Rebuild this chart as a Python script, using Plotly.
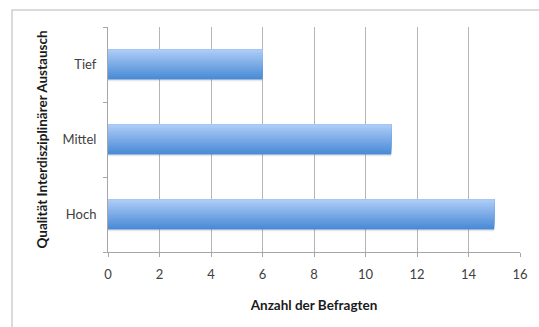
import plotly.graph_objects as go

# Survey data: quality of interdisciplinary exchange
categories = ["Hoch", "Mittel", "Tief"]
counts = [15, 11, 6]
x_ticks = [0, 2, 4, 6, 8, 10, 12, 14, 16]

W, H = 539, 327
L, R, T, B = 108, 19, 27, 75

fig = go.Figure()

# Vertical gradient on each bar: stacked layers, each covering from its
# start up to the bar's top edge, getting lighter toward the top
n_slices = 16
bar_w = 0.4
top_rgb = (171, 203, 246)
bot_rgb = (74, 138, 214)

# soft drop shadow under the bars
fig.add_trace(go.Bar(
    x=counts, y=categories, orientation="h",
    width=bar_w, offset=-bar_w / 2 - 0.022,
    marker=dict(color="rgba(120,120,120,0.18)", line=dict(width=0)),
    hoverinfo="skip", showlegend=False,
))

for i in range(n_slices):
    t = i / (n_slices - 1)  # 0 bottom -> 1 top
    rgb = tuple(round(b + (a - b) * t) for a, b in zip(top_rgb, bot_rgb))
    start = -bar_w / 2 + i * bar_w / n_slices
    fig.add_trace(go.Bar(
        x=counts, y=categories, orientation="h",
        width=bar_w / 2 - start,
        offset=start,
        marker=dict(color="rgb(%d,%d,%d)" % rgb, line=dict(width=0)),
        hoverinfo="skip", showlegend=False,
    ))

font_family = "Lato, 'Open Sans', Arial, sans-serif"

fig.update_layout(
    width=W, height=H,
    margin=dict(l=L, r=R, t=T, b=B, pad=0),
    paper_bgcolor="white", plot_bgcolor="white",
    barmode="overlay",
    font=dict(family=font_family, size=13, color="#404040"),
    xaxis=dict(
        range=[0, 16], tickvals=x_ticks, ticktext=[str(v) for v in x_ticks],
        showgrid=True, gridcolor="#b5b5b5", gridwidth=1,
        showline=True, linecolor="#a6a6a6", linewidth=1,
        ticks="outside", ticklen=4, tickcolor="#a6a6a6",
        ticklabelstandoff=6,
        zeroline=False, fixedrange=True,
        tickfont=dict(size=13, color="#404040"),
        title=dict(text="<b>Anzahl der Befragten</b>", standoff=19,
                   font=dict(size=13.5, color="#1a1a1a")),
    ),
    yaxis=dict(
        categoryorder="array", categoryarray=categories,
        showgrid=False, showline=True, linecolor="#a6a6a6", linewidth=1,
        ticks="outside", ticklen=4, tickcolor="#a6a6a6",
        tickson="boundaries", fixedrange=True,
        ticklabelstandoff=8,
        tickfont=dict(size=13, color="#404040"),
        title=dict(text="<b>Qualität Interdisziplinärer Austausch</b>", standoff=11,
                   font=dict(size=13.5, color="#1a1a1a")),
    ),
    shapes=[
        # outer chart frame
        dict(type="rect", xref="paper", yref="paper",
             x0=(12 - L) / (W - L - R), x1=1.2,
             y0=-0.6, y1=1 + (T - 10) / (H - T - B),
             line=dict(color="#d0d0d0", width=1.5), layer="below"),
    ],
)

fig.write_html("out.html")
